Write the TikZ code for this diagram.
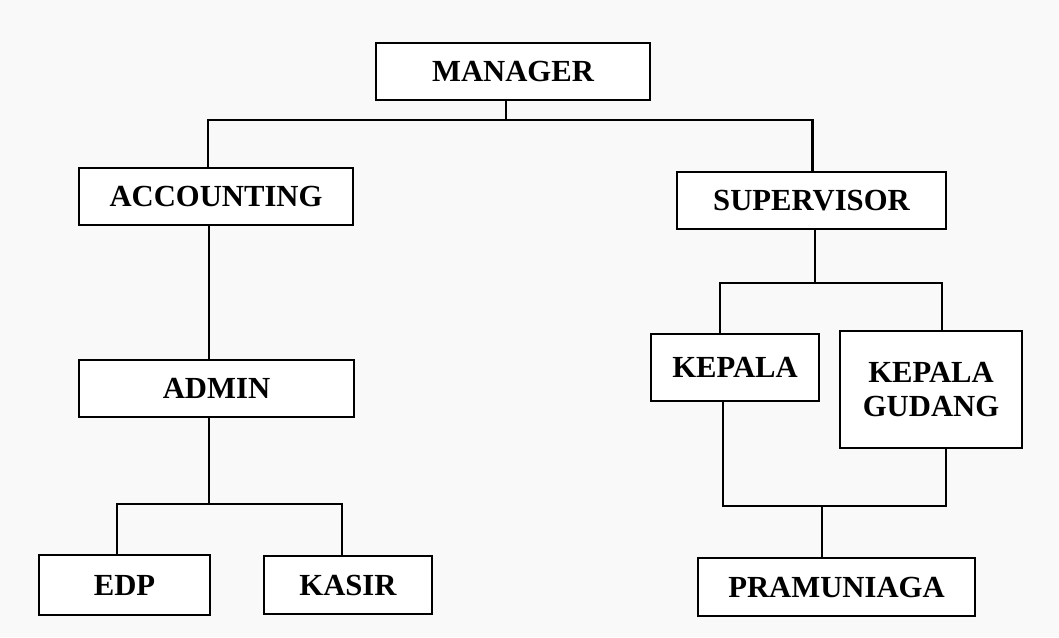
\documentclass[tikz,border=0pt]{standalone}
\usepackage{fontspec}
\setmainfont{Liberation Serif}
\usetikzlibrary{calc}
\tikzset{
  bx/.style n args={2}{draw=black, line width=1.7pt, fill=white, inner sep=0pt,
    minimum width=#1*0.75pt, minimum height=#2*0.75pt,
    font=\bfseries\fontsize{23}{25.5}\selectfont, align=center},
  cn/.style={draw=black, line width=1.7pt}
}
\begin{document}
\begin{tikzpicture}[x=0.75pt,y=-0.75pt]
\fill[gray!5] (0,0) rectangle (1059,637);
\useasboundingbox (0,0) rectangle (1059,637);
\node[bx={274}{57}] (manager) at (513,71.5) {MANAGER};
\node[bx={274}{57}] (accounting) at (216,196.5) {ACCOUNTING};
\node[bx={269}{57}] (supervisor) at (811.5,200.5) {SUPERVISOR};
\node[bx={275}{57}] (admin) at (216.5,388.5) {ADMIN};
\node[bx={171}{60}] (edp) at (124.5,585) {EDP};
\node[bx={168}{58}] (kasir) at (348,585) {KASIR};
\node[bx={168}{67}] (kepala) at (735,367.5) {KEPALA};
\node[bx={182}{117}] (gudang) at (931,389.5) {KEPALA\\GUDANG};
\node[bx={277}{58}] (pramuniaga) at (836.5,587) {PRAMUNIAGA};
% manager branch
\draw[cn] ($(manager.south)+(-7,0)$) -- ++(0,19) coordinate (mj);
\draw[cn] ($(accounting.north)+(-8,0)$) |- (mj) -| ($(supervisor.north)+(1,0)$);
% accounting - admin
\draw[cn] ($(accounting.south)+(-7,0)$) -- ($(admin.north)+(-7.5,0)$);
% admin branch
\draw[cn] ($(admin.south)+(-7.5,0)$) -- ++(0,86) coordinate (aj);
\draw[cn] ($(edp.north)+(-7.5,0)$) |- (aj) -| ($(kasir.north)+(-6,0)$);
% supervisor branch
\draw[cn] ($(supervisor.south)+(3.5,0)$) -- ++(0,53) coordinate (sj);
\draw[cn] ($(kepala.north)+(-15,0)$) |- (sj) -| ($(gudang.north)+(11,0)$);
% to pramuniaga
\draw[cn] ($(pramuniaga.north)+(-14.5,0)$) -- ++(0,-51) coordinate (pj);
\draw[cn] ($(kepala.south)+(-12,0)$) |- (pj) -| ($(gudang.south)+(15,0)$);
\end{tikzpicture}
\end{document}
